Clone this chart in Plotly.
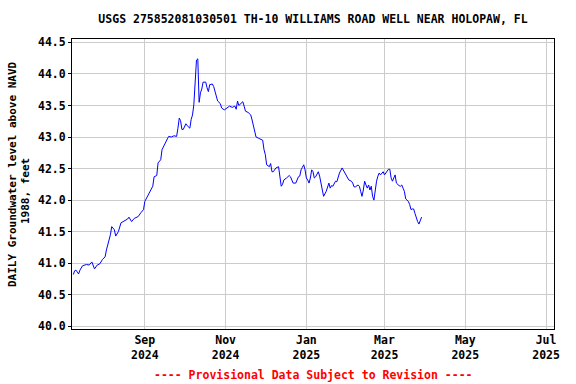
import plotly.graph_objects as go

dates = [
    "2024-07-09", "2024-07-10", "2024-07-11", "2024-07-13", "2024-07-14", "2024-07-16",
    "2024-07-19", "2024-07-21", "2024-07-23", "2024-07-25", "2024-07-27", "2024-07-29",
    "2024-07-31", "2024-08-02", "2024-08-03", "2024-08-05", "2024-08-06", "2024-08-07",
    "2024-08-09", "2024-08-10", "2024-08-12", "2024-08-14", "2024-08-17", "2024-08-19",
    "2024-08-20", "2024-08-22", "2024-08-24", "2024-08-27", "2024-08-29", "2024-08-31",
    "2024-09-01", "2024-09-02", "2024-09-03", "2024-09-05", "2024-09-07", "2024-09-08",
    "2024-09-10", "2024-09-11", "2024-09-13", "2024-09-14", "2024-09-16", "2024-09-18",
    "2024-09-19", "2024-09-21", "2024-09-23", "2024-09-25", "2024-09-26", "2024-09-27",
    "2024-09-28", "2024-09-29", "2024-09-30", "2024-10-02", "2024-10-03", "2024-10-05",
    "2024-10-06", "2024-10-07", "2024-10-08", "2024-10-09", "2024-10-10", "2024-10-11",
    "2024-10-12", "2024-10-13", "2024-10-14", "2024-10-15", "2024-10-17", "2024-10-18",
    "2024-10-19", "2024-10-20", "2024-10-22", "2024-10-23", "2024-10-25", "2024-10-26",
    "2024-10-28", "2024-10-29", "2024-10-31", "2024-11-02", "2024-11-04", "2024-11-06",
    "2024-11-08", "2024-11-09", "2024-11-10", "2024-11-11", "2024-11-13", "2024-11-14",
    "2024-11-15", "2024-11-16", "2024-11-18", "2024-11-20", "2024-11-21", "2024-11-22",
    "2024-11-23", "2024-11-24", "2024-11-26", "2024-11-27", "2024-11-29", "2024-11-30",
    "2024-12-01", "2024-12-02", "2024-12-04", "2024-12-05", "2024-12-06", "2024-12-07",
    "2024-12-09", "2024-12-11", "2024-12-12", "2024-12-13", "2024-12-14", "2024-12-15",
    "2024-12-17", "2024-12-19", "2024-12-20", "2024-12-21", "2024-12-22", "2024-12-24",
    "2024-12-25", "2024-12-26", "2024-12-27", "2024-12-28", "2024-12-29", "2024-12-30",
    "2024-12-31", "2025-01-01", "2025-01-02", "2025-01-03", "2025-01-04", "2025-01-05",
    "2025-01-06", "2025-01-07", "2025-01-08", "2025-01-10", "2025-01-11", "2025-01-12",
    "2025-01-13", "2025-01-14", "2025-01-16", "2025-01-17", "2025-01-18", "2025-01-19",
    "2025-01-20", "2025-01-21", "2025-01-23", "2025-01-24", "2025-01-25", "2025-01-26",
    "2025-01-28", "2025-01-29", "2025-01-30", "2025-01-31", "2025-02-01", "2025-02-02",
    "2025-02-04", "2025-02-05", "2025-02-06", "2025-02-07", "2025-02-09", "2025-02-10",
    "2025-02-11", "2025-02-12", "2025-02-13", "2025-02-14", "2025-02-15", "2025-02-16",
    "2025-02-17", "2025-02-18", "2025-02-19", "2025-02-20", "2025-02-21", "2025-02-22",
    "2025-02-23", "2025-02-24", "2025-02-25", "2025-02-26", "2025-02-27", "2025-02-28",
    "2025-03-01", "2025-03-02", "2025-03-03", "2025-03-04", "2025-03-05", "2025-03-06",
    "2025-03-07", "2025-03-08", "2025-03-09", "2025-03-10", "2025-03-11", "2025-03-12",
    "2025-03-13", "2025-03-14", "2025-03-15", "2025-03-16", "2025-03-17", "2025-03-18",
    "2025-03-19", "2025-03-20", "2025-03-21", "2025-03-22", "2025-03-23", "2025-03-24",
    "2025-03-25", "2025-03-26", "2025-03-27", "2025-03-28", "2025-03-29",
]

levels = [
    40.82, 40.88, 40.89, 40.83, 40.89, 40.96,
    40.98, 40.97, 41.02, 40.91, 40.97, 40.99,
    41.06, 41.10, 41.21, 41.37, 41.45, 41.58,
    41.53, 41.43, 41.50, 41.64, 41.68, 41.70,
    41.73, 41.66, 41.71, 41.74, 41.80, 41.85,
    41.98, 42.02, 42.06, 42.12, 42.22, 42.37,
    42.39, 42.59, 42.64, 42.80, 42.90, 42.97,
    43.01, 43.00, 43.02, 43.01, 43.14, 43.30,
    43.26, 43.12, 43.12, 43.21, 43.18, 43.14,
    43.28, 43.35, 43.51, 43.91, 44.22, 44.24,
    43.55, 43.70, 43.76, 43.87, 43.87, 43.78,
    43.72, 43.83, 43.84, 43.80, 43.67, 43.57,
    43.53, 43.46, 43.43, 43.46, 43.49, 43.47,
    43.49, 43.44, 43.57, 43.50, 43.54, 43.56,
    43.49, 43.41, 43.39, 43.35, 43.27, 43.19,
    43.09, 43.00, 42.98, 42.97, 42.95, 42.80,
    42.72, 42.56, 42.53, 42.58, 42.45, 42.45,
    42.51, 42.53, 42.32, 42.22, 42.25, 42.32,
    42.35, 42.39, 42.37, 42.30, 42.27, 42.27,
    42.33, 42.37, 42.38, 42.48, 42.52, 42.56,
    42.48, 42.35, 42.32, 42.27, 42.35, 42.48,
    42.45, 42.35, 42.37, 42.45, 42.38, 42.27,
    42.14, 42.06, 42.14, 42.19, 42.27, 42.19,
    42.23, 42.22, 42.30, 42.29, 42.35, 42.43,
    42.51, 42.47, 42.45, 42.40, 42.37, 42.32,
    42.30, 42.27, 42.21, 42.21, 42.24, 42.22,
    42.14, 42.06, 42.16, 42.30, 42.24, 42.19,
    42.24, 42.16, 42.22, 42.06, 42.00, 42.16,
    42.30, 42.38, 42.43, 42.40, 42.43, 42.45,
    42.40, 42.43, 42.48, 42.49, 42.49, 42.35,
    42.30, 42.35, 42.40, 42.27, 42.24, 42.23,
    42.22, 42.24, 42.19, 42.14, 42.02, 42.00,
    41.98, 41.93, 41.85, 41.86, 41.86, 41.79,
    41.71, 41.66, 41.62, 41.69, 41.73,
]

title_text = "USGS 275852081030501 TH-10 WILLIAMS ROAD WELL NEAR HOLOPAW, FL"
ylabel_line1 = "DAILY Groundwater level above NAVD"
ylabel_line2 = "1988, feet"
footer_text = "---- Provisional Data Subject to Revision ----"

FONT = "DejaVu Sans Mono"

fig = go.Figure()
fig.add_trace(go.Scatter(
    x=dates, y=levels, mode="lines",
    line=dict(color="#0000ff", width=1),
    showlegend=False, hoverinfo="x+y",
))

fig.update_layout(
    width=576, height=384,
    margin=dict(l=72, r=22, t=39, b=55),
    paper_bgcolor="white", plot_bgcolor="white",
    font=dict(family=FONT, size=11.5, color="black", weight="bold"),
    title=dict(text=title_text, x=0.5, xanchor="center", xref="paper",
               y=1 - 19 / 384, yanchor="middle", yref="container",
               font=dict(family=FONT, size=11.5, color="black", weight="bold")),
    xaxis=dict(
        type="date",
        range=["2024-07-08", "2025-07-07"],
        tick0="2024-09-01", dtick="M2",
        tickformat="%b<br>%Y",
        showgrid=True, gridcolor="#cccccc", gridwidth=1,
        showline=True, linecolor="black", linewidth=1, mirror=True,
        ticks="", zeroline=False, automargin=False,
        tickfont=dict(family=FONT, size=11.5, color="black", weight="bold"),
    ),
    yaxis=dict(
        range=[39.957, 44.554],
        tick0=40, dtick=0.5, tickformat=".1f",
        showgrid=True, gridcolor="#cccccc", gridwidth=1,
        showline=True, linecolor="black", linewidth=1, mirror=True,
        ticks="outside", ticklen=3, tickcolor="black", zeroline=False,
        automargin=False,
        tickfont=dict(family=FONT, size=11.5, color="black", weight="bold"),
    ),
)

fig.add_annotation(text=ylabel_line1, xref="paper", yref="paper",
                   x=0, xshift=-60, xanchor="center",
                   y=0.5, yshift=10, yanchor="middle",
                   textangle=-90, showarrow=False,
                   font=dict(family=FONT, size=11, color="black", weight="bold"))
fig.add_annotation(text=ylabel_line2, xref="paper", yref="paper",
                   x=0, xshift=-47, xanchor="center",
                   y=0.5, yshift=-7, yanchor="middle",
                   textangle=-90, showarrow=False,
                   font=dict(family=FONT, size=11, color="black", weight="bold"))
fig.add_annotation(text=footer_text, xref="paper", yref="paper",
                   x=0.5, xanchor="center",
                   y=0, yshift=-46, yanchor="middle",
                   showarrow=False,
                   font=dict(family=FONT, size=11.5, color="#ff0000", weight="bold"))

fig.write_html("out.html", config={"displayModeBar": False},
               post_script="document.body.style.margin='0';document.body.style.overflow='hidden';")
